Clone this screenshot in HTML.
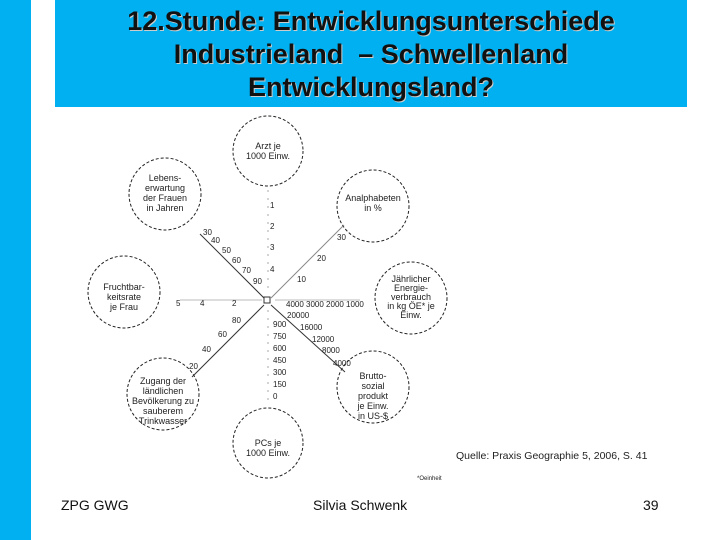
<!DOCTYPE html>
<html><head><meta charset="utf-8"><style>
body{margin:0;width:720px;height:540px;background:#fff;position:relative;overflow:hidden;font-family:"Liberation Sans",sans-serif}
.bar{position:absolute;left:0;top:0;width:31px;height:540px;background:#00b0f0}
.hd{position:absolute;left:55px;top:0;width:632px;height:107px;background:#00b0f0;text-align:center;font-weight:bold;font-size:27px;line-height:33px;color:#111;text-shadow:1px 1px 0 #ccc;padding-top:5px;box-sizing:border-box;letter-spacing:0px}
.f{position:absolute;top:497px;font-size:14px;color:#111}
</style></head><body>
<div class="bar"></div>
<div class="hd">12.Stunde: Entwicklungsunterschiede<br>Industrieland &nbsp;– Schwellenland<br>Entwicklungsland?</div>
<svg width="720" height="540" style="position:absolute;left:0;top:0" font-family="Liberation Sans" font-size="9" fill="#222">
<g fill="none" stroke="#222" stroke-width="1" stroke-dasharray="3,2">
<circle cx="268" cy="151" r="35"/>
<circle cx="165" cy="194" r="36"/>
<circle cx="373" cy="206" r="36"/>
<circle cx="124" cy="292" r="36"/>
<circle cx="411" cy="298" r="36"/>
<circle cx="163" cy="394" r="36"/>
<circle cx="373" cy="387" r="36"/>
<circle cx="268" cy="443" r="35"/>
</g>
<g stroke="#333" stroke-width="1">
<line x1="200" y1="234" x2="264" y2="298"/>
<line x1="271" y1="298" x2="344" y2="225" stroke="#888"/>
<line x1="264" y1="305" x2="192" y2="377"/>
<line x1="271" y1="305" x2="345" y2="372"/>
<line x1="268" y1="190" x2="268" y2="290" stroke="#aaa" stroke-dasharray="2,6"/>
<line x1="268" y1="310" x2="268" y2="400" stroke="#aaa" stroke-dasharray="2,6"/>
<line x1="180" y1="300" x2="262" y2="300" stroke="#bbb"/>
<line x1="275" y1="300" x2="360" y2="300" stroke="#bbb"/>
<rect x="264" y="297" width="6" height="6" fill="#fff"/>
</g>
<g text-anchor="middle">
<text x="268" y="149">Arzt je</text><text x="268" y="159">1000 Einw.</text>
<text x="165" y="181">Lebens-</text><text x="165" y="191">erwartung</text><text x="165" y="201">der Frauen</text><text x="165" y="211">in Jahren</text>
<text x="373" y="201">Analphabeten</text><text x="373" y="211">in %</text>
<text x="124" y="290">Fruchtbar-</text><text x="124" y="300">keitsrate</text><text x="124" y="310">je Frau</text>
<text x="411" y="282">Jährlicher</text><text x="411" y="291">Energie-</text><text x="411" y="300">verbrauch</text><text x="411" y="309">in kg ÖE* je</text><text x="411" y="318">Einw.</text>
<text x="163" y="384">Zugang der</text><text x="163" y="394">ländlichen</text><text x="163" y="404">Bevölkerung zu</text><text x="163" y="414">sauberem</text><text x="163" y="424">Trinkwasser</text>
<text x="373" y="379">Brutto-</text><text x="373" y="389">sozial</text><text x="373" y="399">produkt</text><text x="373" y="409">je Einw.</text><text x="373" y="419">in US-$</text>
<text x="268" y="446">PCs je</text><text x="268" y="456">1000 Einw.</text>
</g>
<g font-size="8">
<text x="270" y="208">1</text><text x="270" y="229">2</text><text x="270" y="250">3</text><text x="270" y="272">4</text>
<text x="203" y="235">30</text><text x="211" y="243">40</text><text x="222" y="253">50</text><text x="232" y="263">60</text><text x="242" y="273">70</text><text x="253" y="284">90</text>
<text x="317" y="261">20</text><text x="337" y="240">30</text><text x="297" y="282">10</text>
<text x="176" y="306">5</text><text x="200" y="306">4</text><text x="232" y="306">2</text>
<text x="286" y="307">4000 3000 2000 1000</text>
<text x="287" y="318">20000</text><text x="300" y="330">16000</text><text x="312" y="342">12000</text><text x="322" y="353">8000</text><text x="333" y="366">4000</text>
<text x="232" y="323">80</text><text x="218" y="337">60</text><text x="202" y="352">40</text><text x="189" y="369">20</text>
<text x="273" y="327">900</text><text x="273" y="339">750</text><text x="273" y="351">600</text><text x="273" y="363">450</text><text x="273" y="375">300</text><text x="273" y="387">150</text><text x="273" y="399">0</text>
</g>
<text x="456" y="459" font-size="10.5">Quelle: Praxis Geographie 5, 2006, S. 41</text>
<text x="417" y="480" font-size="6">*Oeinheit</text>
</svg>
<div class="f" style="left:61px">ZPG GWG</div>
<div class="f" style="left:313px">Silvia Schwenk</div>
<div class="f" style="left:643px">39</div>
</body></html>
